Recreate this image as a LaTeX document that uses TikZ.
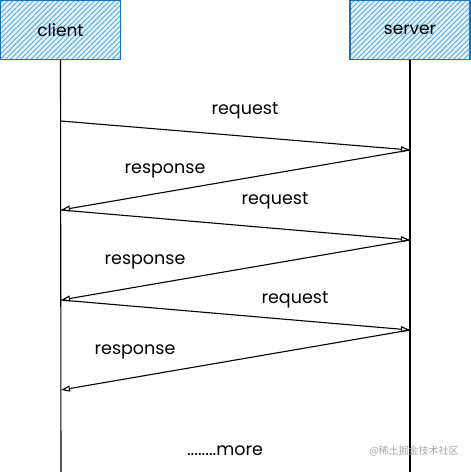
\documentclass[tikz,border=0pt]{standalone}
\usepackage{fontspec}
\setmainfont{Poppins}
\newfontfamily\cjk{Noto Sans CJK SC}
\usepackage{tikz}
\usetikzlibrary{arrows.meta}
\usetikzlibrary{patterns.meta}
\usetikzlibrary{positioning}
\definecolor{boxblue}{HTML}{1971C2}
\definecolor{hatchblue}{HTML}{5AACE0}
\definecolor{fillblue}{HTML}{E3F1FB}
\tikzset{actor/.style = {draw=boxblue, line width=1.1pt, minimum width=120pt, minimum height=59pt, inner sep=0,
        preaction={fill=fillblue},
        pattern={Lines[angle=45,distance=3.6pt,line width=0.9pt]}, pattern color=hatchblue, font=\fontsize{17}{20}\selectfont}}
\tikzset{msg/.style = {line width=1.1pt, -{Triangle[open,length=9pt,width=6pt]}}}
\tikzset{lbl/.style = {font=\fontsize{17.5}{20}\selectfont}}

\begin{document}
\begin{tikzpicture}[x=1pt,y=-1pt]
        \useasboundingbox (0,0) rectangle (471,472);
        \node[actor] (client) at (60.5,30) {client};
        \node[actor] (server) at (410,30) {server};
        \coordinate (clientend) at (61,472);
        \coordinate (serverend) at (410,472);
        \draw[line width=1.1pt] (client.south) -- (clientend);
        \draw[line width=1.1pt] (server.south) -- (serverend);
        \coordinate (c1) at (61,121);
        \coordinate (s1) at (410,150);
        \coordinate (c2) at (61,210);
        \coordinate (s2) at (410,240);
        \coordinate (c3) at (61,300);
        \coordinate (s3) at (410,330);
        \coordinate (c4) at (61,390);
        \draw[msg] (c1) -- (s1);
        \draw[msg] (s1) -- (c2);
        \draw[msg] (c2) -- (s2);
        \draw[msg] (s2) -- (c3);
        \draw[msg] (c3) -- (s3);
        \draw[msg] (s3) -- (c4);
        \node[lbl] (req1) at (245,111) {request};
        \node[lbl] (resp1) at (165,171) {response};
        \node[lbl] (req2) at (275,201) {request};
        \node[lbl] (resp2) at (145,262) {response};
        \node[lbl] (req3) at (295,300) {request};
        \node[lbl] (resp3) at (135,352) {response};
        \node[lbl] (more) at (225,451) {........more};
        \node[font=\cjk\fontsize{10}{12}\selectfont, text=black!35] (mark) at (414,451) {@稀土掘金技术社区};
    \end{tikzpicture}
\end{document}
